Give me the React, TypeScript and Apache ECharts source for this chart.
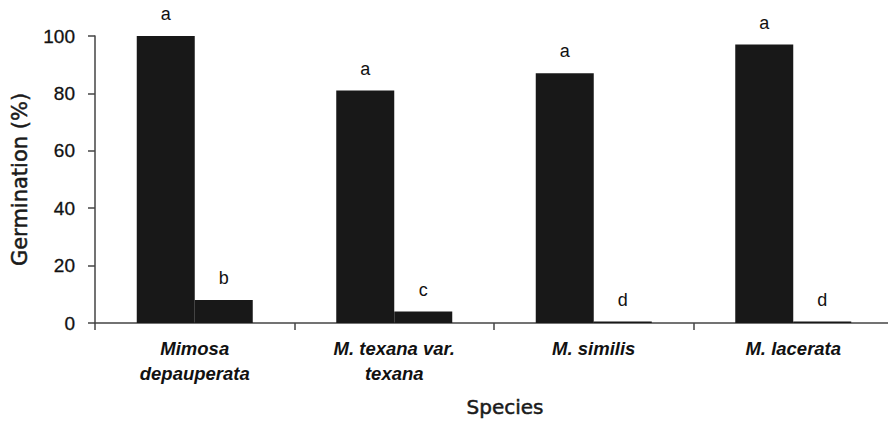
import React, { useEffect, useRef } from "react";
import * as echarts from "echarts";

const categories = ["Mimosa\ndepauperata", "M. texana var.\ntexana", "M. similis", "M. lacerata"];
const seriesA = [100, 81, 87, 97];
const seriesB = [8, 4, 0.5, 0.5];
const lettersA = ["a", "a", "a", "a"];
const lettersB = ["b", "c", "d", "d"];
const yTicks = [0, 20, 40, 60, 80, 100];

export default function App() {
  const ref = useRef<HTMLDivElement>(null);
  useEffect(() => {
    const chart = echarts.init(ref.current!, null, { renderer: "svg" });
    const font = "Liberation Sans, Arial, sans-serif";
    const wide = "DejaVu Sans, Verdana, sans-serif";
    const mk = (vals: number[], letters: string[]) =>
      vals.map((v, i) => ({ value: v, label: { formatter: letters[i] } }));
    const lbl = { show: true, position: "top", distance: 13, color: "#111", fontSize: 18, fontFamily: font };
    chart.setOption({
      animation: false,
      textStyle: { fontFamily: font },
      grid: { left: 95, top: 36, bottom: 99, right: -5, containLabel: false, outerBoundsMode: "none" },
      xAxis: {
        type: "category",
        data: categories,
        boundaryGap: true,
        axisLine: { lineStyle: { color: "#444", width: 1.5 } },
        axisTick: { show: true, length: 7, lineStyle: { color: "#444", width: 1.5 } },
        axisLabel: {
          color: "#111",
          fontSize: 18.5,
          fontStyle: "italic",
          fontWeight: "bold",
          lineHeight: 25,
          margin: 13,
          interval: 0,
          fontFamily: font,
        },
        name: "Species",
        nameLocation: "middle",
        nameGap: 74,
        nameTextStyle: {
          color: "#1a1a1a",
          fontSize: 20,
          fontFamily: wide,
          textBorderColor: "#1a1a1a",
          textBorderWidth: 0.5,
          padding: [0, 0, 0, 22],
        },
      },
      yAxis: {
        type: "value",
        min: 0,
        max: 100,
        interval: 20,
        axisLine: { show: true, lineStyle: { color: "#444", width: 1.5 } },
        axisTick: { show: true, length: 7, lineStyle: { color: "#444", width: 1.5 } },
        splitLine: { show: false },
        axisLabel: {
          color: "#111",
          fontSize: 19,
          margin: 20,
          fontFamily: font,
          textBorderColor: "#111",
          textBorderWidth: 0.3,
          formatter: (v: number) => (yTicks.includes(v) ? String(v) : ""),
        },
        name: "Germination (%)",
        nameLocation: "middle",
        nameGap: 65,
        nameTextStyle: {
          color: "#1a1a1a",
          fontSize: 21,
          fontFamily: wide,
          textBorderColor: "#1a1a1a",
          textBorderWidth: 0.5,
        },
      },
      series: [
        {
          type: "bar",
          data: mk(seriesA, lettersA),
          barWidth: 58,
          barGap: "0%",
          itemStyle: { color: "#181818" },
          label: lbl,
        },
        {
          type: "bar",
          data: mk(seriesB, lettersB),
          barWidth: 58,
          barGap: "0%",
          itemStyle: { color: "#181818" },
          label: lbl,
        },
      ],
    });
    return () => chart.dispose();
  }, []);
  return (
    <div
      ref={ref}
      style={{ position: "fixed", left: 0, top: 0, width: 888, height: 422, overflow: "hidden", background: "#fff" }}
    />
  );
}
